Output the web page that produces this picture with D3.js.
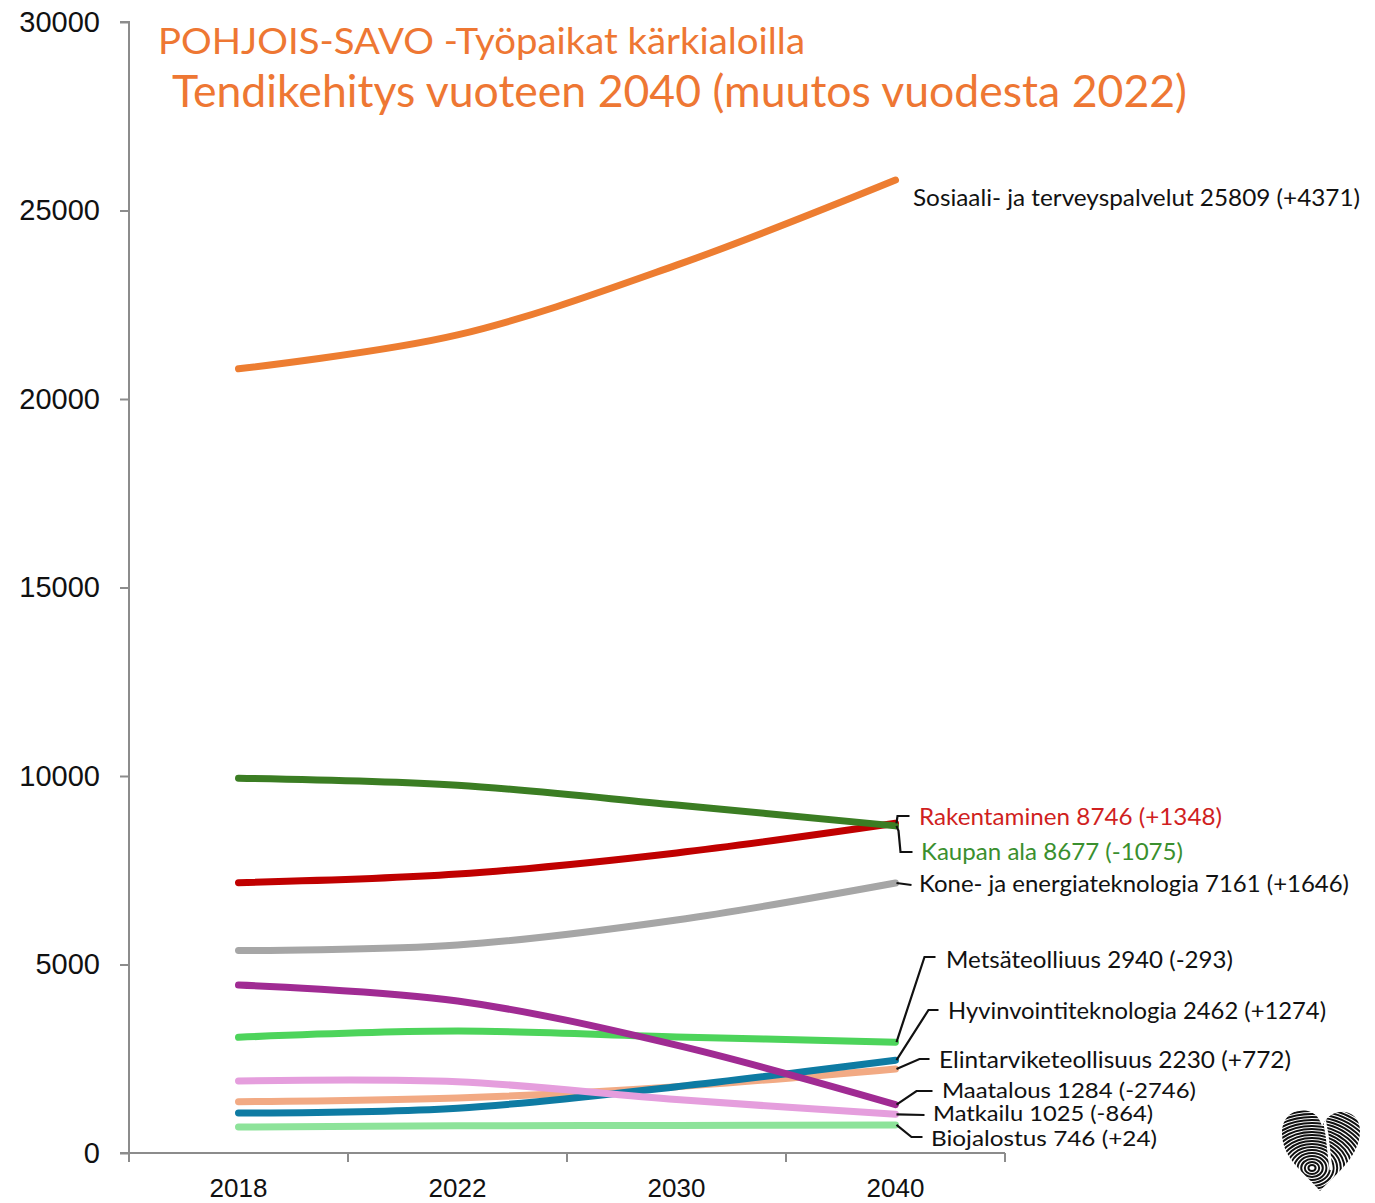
<!DOCTYPE html>
<html>
<head>
<meta charset="utf-8">
<script src="https://cdn.jsdelivr.net/npm/d3@7/dist/d3.min.js"></script>
<style>
  html, body { margin: 0; padding: 0; background: #fff; }
  svg { display: block; }
</style>
</head>
<body>
<svg id="chart" width="1375" height="1203"></svg>
<script>
// ---------------- DATA ----------------
const years = ["2018", "2022", "2030", "2040"];
const yTicks = [0, 5000, 10000, 15000, 20000, 25000, 30000];

const seriesNames = [
  "Sosiaali- ja terveyspalvelut",
  "Kaupan ala",
  "Rakentaminen",
  "Kone- ja energiateknologia",
  "Maatalous",
  "Metsäteolliuus",
  "Matkailu",
  "Elintarviketeollisuus",
  "Hyvinvointiteknologia",
  "Biojalostus"
];
const sosiaali     = [20800, 21700, 23550, 25809];
const kaupan       = [9940, 9752, 9230, 8677];
const rakentaminen = [7170, 7398, 7960, 8746];
const kone         = [5370, 5515, 6180, 7161];
const maatalous    = [4456, 4030, 2860, 1284];
const metsa        = [3070, 3233, 3080, 2940];
const matkailu     = [1910, 1889, 1420, 1025];
const elintarvike  = [1360, 1458, 1760, 2230];
const hyvinvointi  = [1061, 1188, 1760, 2462];
const biojalostus  = [690, 722, 730, 746];
const seriesValues = [sosiaali, kaupan, rakentaminen, kone, maatalous, metsa, matkailu, elintarvike, hyvinvointi, biojalostus];
// change from 2022 as printed in the labels
const changes = [4371, -1075, 1348, 1646, -2746, -293, -864, 772, 1274, 24];

const titleLine1 = "POHJOIS-SAVO -Työpaikat kärkialoilla";
const titleLine2 = "Tendikehitys vuoteen 2040 (muutos vuodesta 2022)";

// ---------------- STYLE / LAYOUT ----------------
const lineColors = ["#ED7D31", "#3B7D23", "#C00000", "#A6A6A6", "#A02B93", "#4DD45B", "#E59EDD", "#F2AA84", "#0E7BA3", "#8DE39A"];
const labelColors = ["#111", "#3A8F2E", "#D01F1F", "#111", "#111", "#111", "#111", "#111", "#111", "#111"];
const labelLayout = [
  { x: 913, y: 206, w: 447, fs: 23, leader: null },
  { x: 921, y: 860, w: 262, fs: 23, leader: [[0, 0], [3, 5], [5, 852], [17, 852]] },
  { x: 919, y: 825, w: 303, fs: 23, leader: [[0, 0], [2, 816], [14, 816]] },
  { x: 919, y: 892, w: 430, fs: 23, leader: [[0, 0], [16, 885]] },
  { x: 942, y: 1098, w: 254, fs: 21, leader: [[0, 0], [21, 1091], [37, 1091]] },
  { x: 946, y: 968, w: 287, fs: 23, leader: [[0, 0], [29, 957], [40, 957]] },
  { x: 933, y: 1121, w: 220, fs: 20.5, leader: [[0, 0], [29, 1115]] },
  { x: 939, y: 1068, w: 352, fs: 23, leader: [[0, 0], [24, 1059], [34, 1059]] },
  { x: 948, y: 1019, w: 378, fs: 23, leader: [[0, 0], [33, 1010], [43, 1010]] },
  { x: 931, y: 1146, w: 226, fs: 20.5, leader: [[0, 0], [16, 1137], [27, 1137]] }
];

const svg = d3.select("#chart");
const plotLeft = 129, plotRight = 1005, plotTop = 22, plotBottom = 1153;

const x = d3.scaleBand().domain(years).range([plotLeft, plotRight]);
const y = d3.scaleLinear().domain([0, 30000]).range([plotBottom, plotTop]);
const xc = d => x(d) + x.bandwidth() / 2;

const axisColor = "#8C8C8C";

// Y axis
const yAxis = svg.append("g")
  .attr("transform", `translate(${plotLeft},0)`)
  .call(d3.axisLeft(y).tickValues(yTicks).tickSize(9).tickPadding(20).tickFormat(d3.format("d")));
yAxis.select(".domain").attr("stroke", axisColor).attr("stroke-width", 2).attr("d", `M-9,${plotTop}H0V${plotBottom}H-9`);
yAxis.selectAll(".tick line").attr("stroke", axisColor).attr("stroke-width", 2);
yAxis.selectAll(".tick text").attr("font-family", "'Liberation Sans', Arial, sans-serif").attr("font-size", 29).attr("fill", "#111");

// X axis: labels at band centres, ticks at band edges
const xAxis = svg.append("g")
  .attr("transform", `translate(0,${plotBottom})`)
  .call(d3.axisBottom(x).tickSize(0).tickPadding(26));
xAxis.select(".domain").attr("stroke", axisColor).attr("stroke-width", 2).attr("d", `M${plotLeft},0H${plotRight}`);
xAxis.selectAll(".tick text").attr("font-family", "'Liberation Sans', Arial, sans-serif").attr("font-size", 26).attr("fill", "#111");
const edges = years.map(d => x(d)).concat([x(years[years.length - 1]) + x.bandwidth()]);
xAxis.selectAll("line.edge").data(edges).enter().append("line")
  .attr("class", "edge")
  .attr("x1", d => d).attr("x2", d => d)
  .attr("y1", 0).attr("y2", 9)
  .attr("stroke", axisColor).attr("stroke-width", 2);

// Lines
const lineGen = d3.line()
  .x((d, i) => xc(years[i]))
  .y(d => y(d))
  .curve(d3.curveCatmullRom.alpha(0.5));

const drawOrder = [3, 2, 1, 0, 9, 7, 8, 6, 5, 4];
svg.append("g").selectAll("path.series")
  .data(drawOrder)
  .enter().append("path")
  .attr("class", "series")
  .attr("d", i => lineGen(seriesValues[i]))
  .attr("fill", "none")
  .attr("stroke", i => lineColors[i])
  .attr("stroke-width", 7)
  .attr("stroke-linecap", "round")
  .attr("stroke-linejoin", "round");

// Leader lines and labels
const endX = xc(years[years.length - 1]);
const labelsG = svg.append("g");
seriesNames.forEach((name, i) => {
  const vals = seriesValues[i];
  const last = vals[vals.length - 1];
  const change = changes[i];
  const lay = labelLayout[i];
  if (lay.leader) {
    const ey = y(last);
    const pts = lay.leader.map((p, k) => {
      if (k === 0) return [endX + 1, ey];
      const py = p[1] < 50 ? ey + p[1] : p[1];
      return [endX + p[0], py];
    });
    labelsG.append("path")
      .attr("d", d3.line()(pts))
      .attr("fill", "none")
      .attr("stroke", "#111")
      .attr("stroke-width", 2.2);
  }
  const txt = `${name} ${last} (${change >= 0 ? "+" : ""}${change})`;
  labelsG.append("text")
    .attr("x", lay.x)
    .attr("y", lay.y)
    .attr("font-family", "Lato, 'Open Sans', sans-serif")
    .attr("font-size", lay.fs)
    .attr("fill", labelColors[i])
    .attr("textLength", lay.w)
    .attr("lengthAdjust", "spacingAndGlyphs")
    .text(txt);
});

// Titles
svg.append("text")
  .attr("x", 158).attr("y", 54)
  .attr("font-family", "Lato, 'Open Sans', sans-serif")
  .attr("font-size", 36)
  .attr("fill", "#EE7733")
  .attr("textLength", 647)
  .attr("lengthAdjust", "spacingAndGlyphs")
  .text(titleLine1);
svg.append("text")
  .attr("x", 172).attr("y", 107)
  .attr("font-family", "Lato, 'Open Sans', sans-serif")
  .attr("font-size", 45)
  .attr("fill", "#EE7733")
  .attr("textLength", 1015)
  .attr("lengthAdjust", "spacingAndGlyphs")
  .text(titleLine2);

// Fingerprint heart logo (decorative)
const logo = svg.append("g");
const heart = "M0,-0.5 C-0.12,-1.05 -1,-1.0 -1,-0.35 C-1,0.25 -0.45,0.55 -0.05,1 C0.35,0.6 0.95,0.2 0.95,-0.4 C0.95,-0.95 0.2,-1.0 0,-0.5 Z";
const defs = svg.append("defs");
defs.append("clipPath").attr("id", "heartClip")
  .append("path").attr("d", heart).attr("transform", "translate(1322,1148) scale(40,43)");
const lg = logo.append("g").attr("clip-path", "url(#heartClip)");
d3.range(1, 22).forEach(k => {
  lg.append("ellipse")
    .attr("cx", 1312).attr("cy", 1168)
    .attr("rx", k * 3.6).attr("ry", k * 3.0)
    .attr("fill", "none").attr("stroke", "#111").attr("stroke-width", 2);
});
lg.append("path").attr("d", "M1323,1112 L1327,1135 L1331,1170")
  .attr("stroke", "#fff").attr("stroke-width", 3).attr("fill", "none");
</script>
</body>
</html>
